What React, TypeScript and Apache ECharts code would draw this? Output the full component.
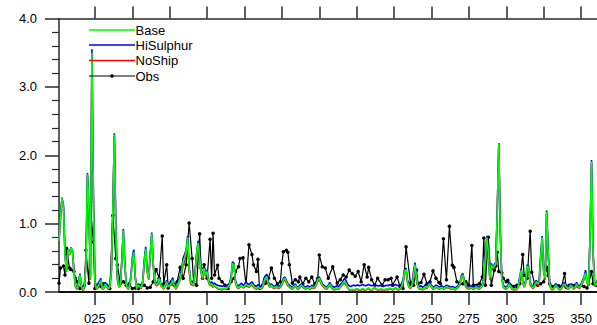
import React, { useEffect, useRef } from "react";
import * as echarts from "echarts";

// Series names and colours (legend order)
const seriesNames = ["Base", "HiSulphur", "NoShip", "Obs"];
const seriesColors = ["#00ff00", "#0000ff", "#ff0000", "#000000"];

// Axis ticks
const xTickValues = [25, 50, 75, 100, 125, 150, 175, 200, 225, 250, 275, 300, 325, 350];
const xTickLabels = ["025", "050", "075", "100", "125", "150", "175", "200", "225", "250", "275", "300", "325", "350"];
const yTickLabels = ["0.0", "1.0", "2.0", "3.0", "4.0"];

// Day of year for the model series
const days = Array.from({ length: 365 }, (_, i) => i + 1);

// Model runs, daily values (day 1..365)
const base = [
  0.75, 1.1, 1.37, 1.25, 0.55, 0.3, 0.62, 0.55, 0.64, 0.6,
  0.3, 0.08, 0.05, 0.12, 0.25, 0.08, 0.03, 0.1, 0.4, 1.72,
  1.2, 0.2, 3.5, 1.4, 0.15, 0.05, 0.08, 0.12, 0.18, 0.05,
  0.06, 0.12, 0.08, 0.05, 0.08, 0.3, 1.2, 2.3, 0.9, 0.2,
  0.08, 0.1, 0.45, 0.9, 0.4, 0.1, 0.05, 0.08, 0.2, 0.45,
  0.58, 0.2, 0.05, 0.1, 0.08, 0.06, 0.15, 0.45, 0.63, 0.3,
  0.2, 0.55, 0.85, 0.4, 0.15, 0.1, 0.12, 0.2, 0.1, 0.08,
  0.05, 0.1, 0.15, 0.08, 0.1, 0.12, 0.18, 0.1, 0.05, 0.08,
  0.15, 0.2, 0.3, 0.45, 0.5, 0.6, 0.8, 0.35, 0.15, 0.12,
  0.1, 0.3, 0.55, 0.72, 0.5, 0.3, 0.2, 0.35, 0.25, 0.3,
  0.15, 0.1, 0.12, 0.08, 0.1, 0.08, 0.06, 0.05, 0.05, 0.04,
  0.05, 0.06, 0.05, 0.08, 0.1, 0.2, 0.42, 0.4, 0.15, 0.08,
  0.06, 0.08, 0.1, 0.07, 0.08, 0.12, 0.09, 0.08, 0.1, 0.12,
  0.08, 0.06, 0.05, 0.08, 0.06, 0.05, 0.07, 0.15, 0.2, 0.22,
  0.12, 0.08, 0.1, 0.07, 0.06, 0.08, 0.07, 0.06, 0.08, 0.12,
  0.18, 0.2, 0.15, 0.1, 0.08, 0.06, 0.05, 0.08, 0.1, 0.06,
  0.05, 0.08, 0.1, 0.08, 0.06, 0.05, 0.07, 0.06, 0.05, 0.08,
  0.06, 0.07, 0.12, 0.18, 0.2, 0.15, 0.1, 0.08, 0.06, 0.05,
  0.08, 0.12, 0.08, 0.05, 0.04, 0.05, 0.06, 0.05, 0.08, 0.1,
  0.14, 0.15, 0.12, 0.07, 0.04, 0.03, 0.04, 0.03, 0.04, 0.05,
  0.04, 0.03, 0.04, 0.05, 0.04, 0.03, 0.05, 0.06, 0.04, 0.03,
  0.05, 0.07, 0.05, 0.04, 0.03, 0.05, 0.04, 0.03, 0.04, 0.05,
  0.04, 0.06, 0.05, 0.04, 0.05, 0.07, 0.05, 0.04, 0.05, 0.08,
  0.15, 0.3, 0.33, 0.15, 0.08, 0.06, 0.1, 0.25, 0.4, 0.2,
  0.08, 0.05, 0.06, 0.04, 0.05, 0.08, 0.06, 0.1, 0.12, 0.08,
  0.05, 0.06, 0.08, 0.07, 0.05, 0.06, 0.07, 0.05, 0.06, 0.08,
  0.07, 0.06, 0.05, 0.06, 0.05, 0.04, 0.06, 0.08, 0.12, 0.22,
  0.25, 0.15, 0.08, 0.06, 0.05, 0.07, 0.06, 0.05, 0.06, 0.08,
  0.06, 0.05, 0.07, 0.1, 0.2, 0.5, 0.8, 0.6, 0.2, 0.4,
  0.35, 0.38, 0.42, 1.2, 2.17, 0.9, 0.2, 0.08, 0.06, 0.05,
  0.08, 0.12, 0.08, 0.05, 0.04, 0.05, 0.04, 0.08, 0.2, 0.32,
  0.15, 0.08, 0.15, 0.38, 0.35, 0.12, 0.08, 0.06, 0.1, 0.15,
  0.12, 0.15, 0.5, 0.8, 0.3, 0.2, 1.17, 0.6, 0.12, 0.05,
  0.04, 0.06, 0.1, 0.08, 0.05, 0.04, 0.06, 0.1, 0.12, 0.08,
  0.05, 0.06, 0.1, 0.08, 0.05, 0.07, 0.12, 0.08, 0.06, 0.1,
  0.15, 0.2, 0.28, 0.15, 0.1, 0.8, 1.91, 0.6, 0.12, 0.1,
  0.15, 0.08, 0.1, 0.12, 0.08,
];

const hiSulphur = [
  0.77, 1.12, 1.38, 1.27, 0.57, 0.32, 0.63, 0.57, 0.65, 0.61,
  0.32, 0.1, 0.07, 0.14, 0.27, 0.1, 0.05, 0.12, 0.42, 1.74,
  1.22, 0.22, 3.55, 1.42, 0.17, 0.08, 0.12, 0.16, 0.2, 0.08,
  0.09, 0.14, 0.1, 0.07, 0.1, 0.32, 1.22, 2.32, 0.92, 0.22,
  0.1, 0.12, 0.47, 0.92, 0.42, 0.12, 0.07, 0.1, 0.22, 0.5,
  0.62, 0.22, 0.08, 0.12, 0.1, 0.08, 0.17, 0.47, 0.66, 0.32,
  0.22, 0.57, 0.87, 0.42, 0.17, 0.12, 0.15, 0.22, 0.12, 0.1,
  0.07, 0.12, 0.17, 0.1, 0.13, 0.15, 0.21, 0.12, 0.07, 0.1,
  0.18, 0.23, 0.35, 0.5, 0.55, 0.62, 0.82, 0.37, 0.17, 0.14,
  0.12, 0.32, 0.57, 0.75, 0.52, 0.32, 0.22, 0.37, 0.27, 0.32,
  0.17, 0.13, 0.15, 0.11, 0.13, 0.11, 0.1, 0.09, 0.09, 0.08,
  0.09, 0.1, 0.09, 0.11, 0.13, 0.22, 0.44, 0.42, 0.17, 0.1,
  0.09, 0.11, 0.13, 0.1, 0.11, 0.15, 0.12, 0.11, 0.13, 0.15,
  0.11, 0.09, 0.08, 0.11, 0.09, 0.08, 0.1, 0.2, 0.24, 0.26,
  0.15, 0.1, 0.12, 0.09, 0.08, 0.1, 0.09, 0.08, 0.1, 0.14,
  0.2, 0.22, 0.17, 0.12, 0.1, 0.08, 0.07, 0.1, 0.12, 0.08,
  0.07, 0.1, 0.12, 0.1, 0.08, 0.07, 0.09, 0.08, 0.07, 0.1,
  0.08, 0.09, 0.14, 0.2, 0.22, 0.17, 0.12, 0.1, 0.08, 0.07,
  0.1, 0.14, 0.1, 0.08, 0.07, 0.08, 0.09, 0.08, 0.11, 0.13,
  0.17, 0.2, 0.16, 0.11, 0.09, 0.08, 0.09, 0.1, 0.09, 0.1,
  0.1, 0.09, 0.1, 0.11, 0.1, 0.09, 0.1, 0.11, 0.1, 0.09,
  0.1, 0.12, 0.1, 0.09, 0.09, 0.1, 0.09, 0.08, 0.09, 0.1,
  0.09, 0.11, 0.1, 0.09, 0.1, 0.11, 0.1, 0.09, 0.1, 0.12,
  0.18, 0.32, 0.35, 0.18, 0.1, 0.09, 0.13, 0.3, 0.43, 0.23,
  0.1, 0.08, 0.09, 0.07, 0.08, 0.11, 0.09, 0.13, 0.14, 0.1,
  0.07, 0.08, 0.1, 0.09, 0.07, 0.08, 0.09, 0.07, 0.08, 0.1,
  0.09, 0.08, 0.07, 0.08, 0.07, 0.06, 0.08, 0.1, 0.14, 0.24,
  0.27, 0.17, 0.1, 0.08, 0.07, 0.09, 0.08, 0.07, 0.08, 0.1,
  0.08, 0.07, 0.09, 0.12, 0.22, 0.52, 0.82, 0.62, 0.22, 0.42,
  0.37, 0.4, 0.44, 1.22, 2.18, 0.92, 0.22, 0.1, 0.08, 0.07,
  0.1, 0.14, 0.1, 0.07, 0.06, 0.07, 0.06, 0.1, 0.22, 0.34,
  0.17, 0.1, 0.17, 0.4, 0.37, 0.14, 0.1, 0.08, 0.12, 0.17,
  0.14, 0.17, 0.55, 0.82, 0.32, 0.22, 1.19, 0.62, 0.14, 0.07,
  0.06, 0.08, 0.12, 0.1, 0.07, 0.06, 0.08, 0.12, 0.14, 0.1,
  0.07, 0.08, 0.12, 0.1, 0.07, 0.09, 0.14, 0.1, 0.08, 0.12,
  0.17, 0.22, 0.32, 0.17, 0.12, 0.82, 1.93, 0.62, 0.14, 0.12,
  0.17, 0.1, 0.12, 0.14, 0.1,
];

const noShip = [
  0.74, 1.09, 1.36, 1.24, 0.54, 0.29, 0.61, 0.54, 0.63, 0.59,
  0.29, 0.07, 0.04, 0.11, 0.24, 0.07, 0.02, 0.09, 0.38, 1.7,
  1.18, 0.18, 3.48, 1.38, 0.13, 0.04, 0.06, 0.1, 0.16, 0.04,
  0.05, 0.1, 0.07, 0.04, 0.07, 0.28, 1.18, 2.28, 0.88, 0.18,
  0.07, 0.09, 0.43, 0.88, 0.38, 0.09, 0.04, 0.07, 0.18, 0.43,
  0.56, 0.18, 0.04, 0.09, 0.07, 0.05, 0.13, 0.43, 0.61, 0.28,
  0.18, 0.53, 0.83, 0.38, 0.13, 0.09, 0.1, 0.18, 0.09, 0.07,
  0.04, 0.09, 0.13, 0.07, 0.09, 0.1, 0.16, 0.09, 0.04, 0.07,
  0.13, 0.18, 0.27, 0.4, 0.44, 0.56, 0.78, 0.3, 0.12, 0.1,
  0.09, 0.28, 0.53, 0.7, 0.48, 0.28, 0.18, 0.33, 0.23, 0.28,
  0.13, 0.09, 0.1, 0.07, 0.09, 0.07, 0.05, 0.04, 0.04, 0.03,
  0.04, 0.05, 0.04, 0.07, 0.09, 0.18, 0.4, 0.38, 0.13, 0.07,
  0.05, 0.07, 0.09, 0.06, 0.07, 0.1, 0.08, 0.07, 0.09, 0.1,
  0.07, 0.05, 0.04, 0.07, 0.05, 0.04, 0.06, 0.12, 0.16, 0.18,
  0.1, 0.07, 0.09, 0.06, 0.05, 0.07, 0.06, 0.05, 0.07, 0.1,
  0.16, 0.18, 0.13, 0.09, 0.07, 0.05, 0.04, 0.07, 0.09, 0.05,
  0.04, 0.07, 0.09, 0.07, 0.05, 0.04, 0.06, 0.05, 0.04, 0.07,
  0.05, 0.06, 0.1, 0.16, 0.18, 0.13, 0.09, 0.07, 0.05, 0.04,
  0.07, 0.1, 0.07, 0.04, 0.03, 0.04, 0.05, 0.04, 0.07, 0.09,
  0.12, 0.13, 0.1, 0.06, 0.03, 0.02, 0.03, 0.02, 0.03, 0.04,
  0.03, 0.02, 0.03, 0.04, 0.03, 0.02, 0.04, 0.05, 0.03, 0.02,
  0.04, 0.06, 0.04, 0.03, 0.02, 0.04, 0.03, 0.02, 0.03, 0.04,
  0.03, 0.05, 0.04, 0.03, 0.04, 0.06, 0.04, 0.03, 0.04, 0.07,
  0.13, 0.28, 0.31, 0.13, 0.07, 0.05, 0.09, 0.22, 0.37, 0.18,
  0.07, 0.04, 0.05, 0.03, 0.04, 0.07, 0.05, 0.09, 0.1, 0.07,
  0.04, 0.05, 0.07, 0.06, 0.04, 0.05, 0.06, 0.04, 0.05, 0.07,
  0.06, 0.05, 0.04, 0.05, 0.04, 0.03, 0.05, 0.07, 0.1, 0.2,
  0.23, 0.13, 0.07, 0.05, 0.04, 0.06, 0.05, 0.04, 0.05, 0.07,
  0.05, 0.04, 0.06, 0.09, 0.18, 0.48, 0.78, 0.58, 0.18, 0.38,
  0.33, 0.36, 0.4, 1.18, 2.15, 0.88, 0.18, 0.07, 0.05, 0.04,
  0.07, 0.1, 0.07, 0.04, 0.03, 0.04, 0.03, 0.07, 0.18, 0.3,
  0.13, 0.07, 0.13, 0.36, 0.33, 0.1, 0.07, 0.05, 0.09, 0.13,
  0.1, 0.13, 0.48, 0.78, 0.28, 0.18, 1.15, 0.58, 0.1, 0.04,
  0.03, 0.05, 0.09, 0.07, 0.04, 0.03, 0.05, 0.09, 0.1, 0.07,
  0.04, 0.05, 0.09, 0.07, 0.04, 0.06, 0.1, 0.07, 0.05, 0.09,
  0.13, 0.18, 0.26, 0.13, 0.09, 0.78, 1.89, 0.58, 0.1, 0.09,
  0.13, 0.07, 0.09, 0.1, 0.07,
];

// Observations: sampling days and values
const obsDays = [
  1, 2, 4, 5, 6, 8, 9, 11, 12, 13, 15, 17, 18, 19, 21, 22, 24, 25, 27, 29,
  31, 33, 35, 37, 39, 40, 42, 44, 46, 48, 50, 52, 54, 56, 58, 60, 62, 64, 66, 68,
  70, 71, 73, 74, 76, 78, 80, 82, 84, 86, 88, 90, 91, 93, 95, 96, 97, 98, 100, 102,
  103, 104, 105, 107, 108, 110, 112, 114, 116, 118, 119, 121, 122, 124, 126, 128, 130, 131, 133, 134,
  135, 137, 139, 141, 143, 145, 147, 149, 150, 151, 153, 154, 155, 157, 159, 161, 162, 164, 166, 168,
  170, 172, 174, 175, 177, 179, 181, 184, 187, 189, 191, 193, 195, 197, 199, 201, 203, 205, 207, 208,
  210, 212, 214, 217, 219, 221, 223, 224, 227, 229, 231, 233, 236, 238, 240, 241, 243, 245, 247, 249,
  251, 253, 255, 256, 258, 260, 262, 264, 265, 267, 269, 271, 273, 275, 277, 278, 280, 282, 284, 285,
  286, 288, 290, 292, 293, 294, 295, 297, 298, 300, 301, 303, 305, 307, 309, 311, 312, 314, 316, 317,
  319, 321, 323, 325, 327, 328, 329, 331, 333, 335, 337, 339, 340, 342, 344, 346, 348, 350, 352, 354,
  355, 357, 358, 360, 362, 364,
];
const obsValues = [
  0.13, 0.35, 0.38, 0.25, 0.64, 0.35, 0.33, 0.3, 0.2, 0.15, 0.05, 0.05, 0.1, 0.61, 0.13, 1.25, 0.73, 0.05, 0.1, 0.08,
  0.12, 0.1, 0.05, 1.12, 0.49, 0.4, 0.12, 0.15, 0.1, 0.12, 0.05, 0.06, 0.05, 0.1, 0.1, 0.06, 0.07, 0.15, 0.33, 0.2,
  0.82, 0.12, 0.4, 0.06, 0.15, 0.1, 0.15, 0.36, 0.2, 0.4, 1.01, 0.49, 0.15, 0.1, 0.85, 0.35, 0.2, 0.4, 0.2, 0.77,
  0.2, 0.86, 0.25, 0.39, 0.2, 0.15, 0.1, 0.05, 0.15, 0.2, 0.3, 0.37, 0.49, 0.5, 0.1, 0.69, 0.55, 0.4, 0.3, 0.48,
  0.06, 0.1, 0.13, 0.2, 0.35, 0.2, 0.12, 0.15, 0.42, 0.59, 0.61, 0.58, 0.4, 0.13, 0.18, 0.15, 0.22, 0.12, 0.2, 0.15,
  0.22, 0.12, 0.2, 0.54, 0.37, 0.35, 0.2, 0.37, 0.13, 0.18, 0.25, 0.22, 0.32, 0.27, 0.23, 0.3, 0.15, 0.4, 0.22, 0.36,
  0.18, 0.1, 0.2, 0.1, 0.18, 0.18, 0.2, 0.1, 0.22, 0.08, 0.05, 0.66, 0.13, 0.1, 0.32, 0.12, 0.14, 0.26, 0.12, 0.15,
  0.31, 0.2, 0.14, 0.12, 0.78, 0.18, 0.96, 0.39, 0.36, 0.15, 0.12, 0.12, 0.15, 0.1, 0.68, 0.1, 0.1, 0.12, 0.22, 0.79,
  0.1, 0.8, 0.1, 0.32, 0.38, 0.58, 0.3, 0.28, 0.2, 0.15, 0.17, 0.1, 0.08, 0.1, 0.12, 0.55, 0.24, 0.2, 0.89, 0.29,
  0.12, 0.1, 0.12, 0.15, 0.36, 0.24, 0.12, 0.08, 0.1, 0.09, 0.08, 0.27, 0.07, 0.1, 0.1, 0.1, 0.08, 0.1, 0.08, 0.06,
  0.12, 0.3, 0.12, 0.1, 0.12, 0.1,
];

const FONT = "Liberation Sans, Arial, Helvetica, sans-serif";
const AXIS_COLOR = "#2a2a2a";

export default function App() {
  const ref = useRef<HTMLDivElement>(null);

  useEffect(() => {
    if (!ref.current) return;
    const chart = echarts.init(ref.current, null, { renderer: "svg" });

    const modelSeries = [base, hiSulphur, noShip];
    const pairs = (vals: number[]) => days.map((d, i) => [d, vals[i]]);

    // Hand-drawn legend in the upper-left corner of the plot
    const legendX0 = 89;
    const legendX1 = 135;
    const legendY = [30, 45, 60.5, 76];
    const legendGraphics: any[] = [];
    seriesNames.forEach((name, i) => {
      legendGraphics.push({
        type: "line",
        shape: { x1: legendX0, y1: legendY[i], x2: legendX1, y2: legendY[i] },
        style: { stroke: seriesColors[i], lineWidth: i === 3 ? 1.2 : 1.6 },
        z: 100,
      });
      legendGraphics.push({
        type: "text",
        x: legendX1 + 0.5,
        y: legendY[i],
        style: {
          text: name,
          fill: "#000",
          font: `13px ${FONT}`,
          textVerticalAlign: "middle",
          verticalAlign: "middle",
        },
        z: 100,
      });
    });
    legendGraphics.push({
      type: "circle",
      shape: { cx: (legendX0 + legendX1) / 2, cy: legendY[3], r: 1.8 },
      style: { fill: "#000" },
      z: 101,
    });

    const xAxisCommon = {
      type: "value" as const,
      min: 1,
      max: 365,
      splitLine: { show: false },
    };

    chart.setOption({
      animation: false,
      backgroundColor: "#ffffff",
      grid: {
        left: 59,
        top: 18.5,
        width: 544.5,
        height: 273.5,
        containLabel: false,
        outerBoundsMode: "none",
      },
      xAxis: [
        {
          ...xAxisCommon,
          position: "bottom",
          axisLine: { show: true, onZero: false, lineStyle: { color: "#111", width: 2 } },
          axisTick: {
            show: true,
            length: 13,
            customValues: xTickValues,
            lineStyle: { color: AXIS_COLOR, width: 1.5 },
          },
          axisLabel: {
            show: true,
            customValues: xTickValues,
            margin: 20,
            fontSize: 13,
            lineHeight: 12,
            fontFamily: FONT,
            color: "#000",
            formatter: (v: number) => xTickLabels[xTickValues.indexOf(v)] ?? "",
          },
        },
        {
          ...xAxisCommon,
          position: "top",
          axisLine: { show: true, onZero: false, lineStyle: { color: AXIS_COLOR, width: 1.5 } },
          axisTick: {
            show: true,
            length: 12,
            customValues: xTickValues,
            lineStyle: { color: AXIS_COLOR, width: 1.5 },
          },
          axisLabel: { show: false },
        },
      ],
      yAxis: {
        type: "value",
        min: 0,
        max: 4,
        interval: 1,
        splitLine: { show: false },
        axisLine: { show: true, onZero: false, lineStyle: { color: AXIS_COLOR, width: 1.5 } },
        axisTick: { show: true, length: 14, lineStyle: { color: AXIS_COLOR, width: 1.5 } },
        minorTick: { show: true, splitNumber: 5, length: 7, lineStyle: { color: AXIS_COLOR, width: 1.2 } },
        axisLabel: {
          margin: 22,
          fontSize: 13,
          fontFamily: FONT,
          color: "#000",
          formatter: (v: number) => yTickLabels[Math.round(v)] ?? "",
        },
      },
      series: [
        {
          name: seriesNames[3],
          type: "line",
          data: obsDays.map((d, i) => [d, obsValues[i]]),
          symbol: "circle",
          symbolSize: 3.5,
          showSymbol: true,
          itemStyle: { color: seriesColors[3] },
          lineStyle: { color: seriesColors[3], width: 1.2 },
          z: 2,
        },
        ...[2, 1, 0].map((k, j) => ({
          name: seriesNames[k],
          type: "line",
          data: pairs(modelSeries[k]),
          showSymbol: false,
          symbol: "none",
          lineStyle: { color: seriesColors[k], width: 1.6 },
          z: 3 + j,
        })),
      ],
      graphic: legendGraphics,
    });

    return () => chart.dispose();
  }, []);

  return (
    <div
      ref={ref}
      style={{ position: "absolute", left: 0, top: 0, width: 597, height: 325, background: "#fff" }}
    />
  );
}
